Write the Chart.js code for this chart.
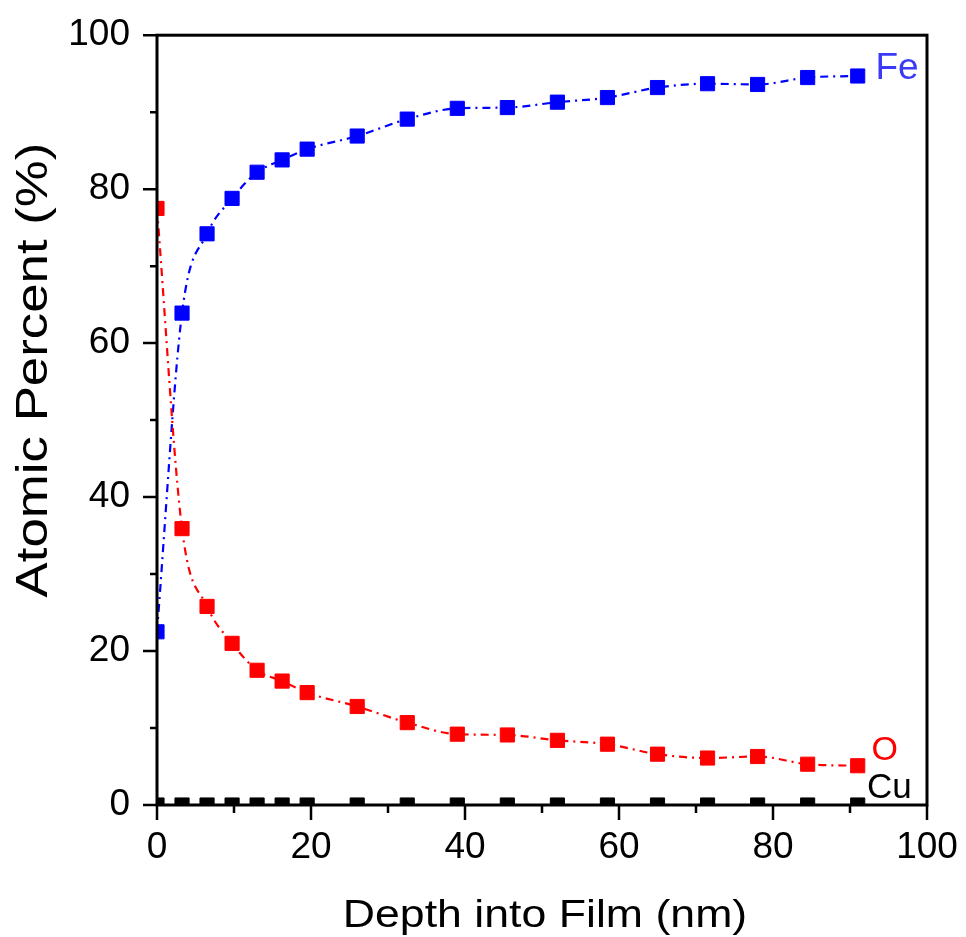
<!DOCTYPE html>
<html lang="en">
<head>
  <meta charset="UTF-8">
  <title>Atomic Percent vs Depth</title>
  <script src="https://cdn.jsdelivr.net/npm/chart.js"></script>
  <style>
    html, body { margin: 0; padding: 0; background: #fff; }
    #wrap { position: relative; width: 966px; height: 937px; }
  </style>
</head>
<body>
  <div id="wrap">
    <canvas id="depthChart"></canvas>
  </div>

  <script>
    // depth profile values
    const depth = [0, 3.25, 6.5, 9.75, 13, 16.25, 19.5, 26, 32.5, 39, 45.5, 52, 58.5, 65, 71.5, 78, 84.5, 91];
    const fe = [22.5, 63.9, 74.2, 78.8, 82.2, 83.8, 85.2, 86.9, 89.1, 90.5, 90.6, 91.3, 91.9, 93.2, 93.7, 93.6, 94.5, 94.7];
    const oxy = [77.5, 35.9, 25.8, 21.0, 17.5, 16.1, 14.6, 12.8, 10.7, 9.2, 9.1, 8.4, 7.9, 6.6, 6.1, 6.3, 5.3, 5.1];
    const cu = [0, 0, 0, 0, 0, 0, 0, 0, 0, 0, 0, 0, 0, 0, 0, 0, 0, 0];

    const xTitle = 'Depth into Film (nm)';
    const yTitle = 'Atomic Percent (%)';

    const FONT = "'Liberation Sans', Arial, sans-serif";

    function pts(ys) {
      return depth.map((x, i) => ({ x: x, y: ys[i] }));
    }

    function series(label, ys, color) {
      return {
        label: label,
        data: pts(ys),
        borderColor: color,
        backgroundColor: color,
        borderWidth: 2.2,
        borderDash: [8, 5, 2, 5],
        pointStyle: 'rect',
        pointRadius: 10,
        pointBorderWidth: 1,
        pointBorderColor: color,
        cubicInterpolationMode: 'monotone',
        clip: 0
      };
    }

    // frame, outward major/minor ticks, axis titles and series labels
    const decorations = {
      id: 'decorations',
      afterDraw(chart) {
        const ctx = chart.ctx;
        const a = chart.chartArea;
        const xs = chart.scales.x, ys = chart.scales.y;
        ctx.save();
        ctx.strokeStyle = '#000';
        ctx.lineWidth = 3;
        ctx.strokeRect(a.left, a.top, a.right - a.left, a.bottom - a.top);

        ctx.lineWidth = 2.5;
        ctx.beginPath();
        for (let v = 0; v <= 100; v += 10) {
          const major = v % 20 === 0;
          const px = xs.getPixelForValue(v);
          ctx.moveTo(px, a.bottom);
          ctx.lineTo(px, a.bottom + (major ? 15 : 8));
          const py = ys.getPixelForValue(v);
          ctx.moveTo(a.left, py);
          ctx.lineTo(a.left - (major ? 14 : 7), py);
        }
        ctx.stroke();

        // axis titles (glyphs in the figure are drawn a little wide)
        ctx.fillStyle = '#000';
        ctx.textAlign = 'center';
        ctx.textBaseline = 'alphabetic';

        ctx.save();
        ctx.translate((a.left + a.right) / 2 + 3, 927);
        ctx.scale(1.145, 1);
        ctx.font = '39px ' + FONT;
        ctx.fillText(xTitle, 0, 0);
        ctx.restore();

        ctx.save();
        ctx.translate(47, 370);
        ctx.rotate(-Math.PI / 2);
        ctx.scale(1.2, 1);
        ctx.font = '44px ' + FONT;
        ctx.fillText(yTitle, 0, 0);
        ctx.restore();

        // series labels beside the last points
        ctx.textAlign = 'left';
        ctx.textBaseline = 'middle';
        const tags = [
          { text: 'Fe', color: '#3b3bf7', x: 93.3, y: 95.6, size: 37 },
          { text: 'O', color: '#ff0000', x: 92.8, y: 7.0, size: 34 },
          { text: 'Cu', color: '#000000', x: 92.2, y: 2.2, size: 35 }
        ];
        tags.forEach(t => {
          ctx.fillStyle = t.color;
          ctx.font = t.size + 'px ' + FONT;
          ctx.fillText(t.text, xs.getPixelForValue(t.x), ys.getPixelForValue(t.y));
        });
        ctx.restore();
      }
    };

    const ctx = document.getElementById('depthChart').getContext('2d');
    const chart = new Chart(ctx, {
      type: 'line',
      data: {
        datasets: [
          series('Cu', cu, '#000000'),
          series('O', oxy, '#ff0000'),
          series('Fe', fe, '#0000ff')
        ]
      },
      options: {
        responsive: true,
        maintainAspectRatio: false,
        animation: false,
        layout: { padding: { top: 35, right: 39, left: 0, bottom: 0 } },
        plugins: {
          legend: { display: false },
          tooltip: { enabled: false }
        },
        scales: {
          x: {
            type: 'linear',
            min: 0,
            max: 100,
            ticks: {
              stepSize: 20,
              color: '#000',
              padding: 6,
              maxRotation: 0,
              font: { family: FONT, size: 37 }
            },
            grid: { display: false, drawTicks: true, tickLength: 15 },
            border: { display: false },
            afterFit: scale => { scale.height = 132; }
          },
          y: {
            min: 0,
            max: 100,
            ticks: {
              stepSize: 20,
              color: '#000',
              padding: 13,
              font: { family: FONT, size: 37 }
            },
            grid: { display: false, drawTicks: true, tickLength: 14 },
            border: { display: false },
            afterFit: scale => { scale.width = 157; }
          }
        }
      },
      plugins: [decorations]
    });
  </script>
</body>
</html>
